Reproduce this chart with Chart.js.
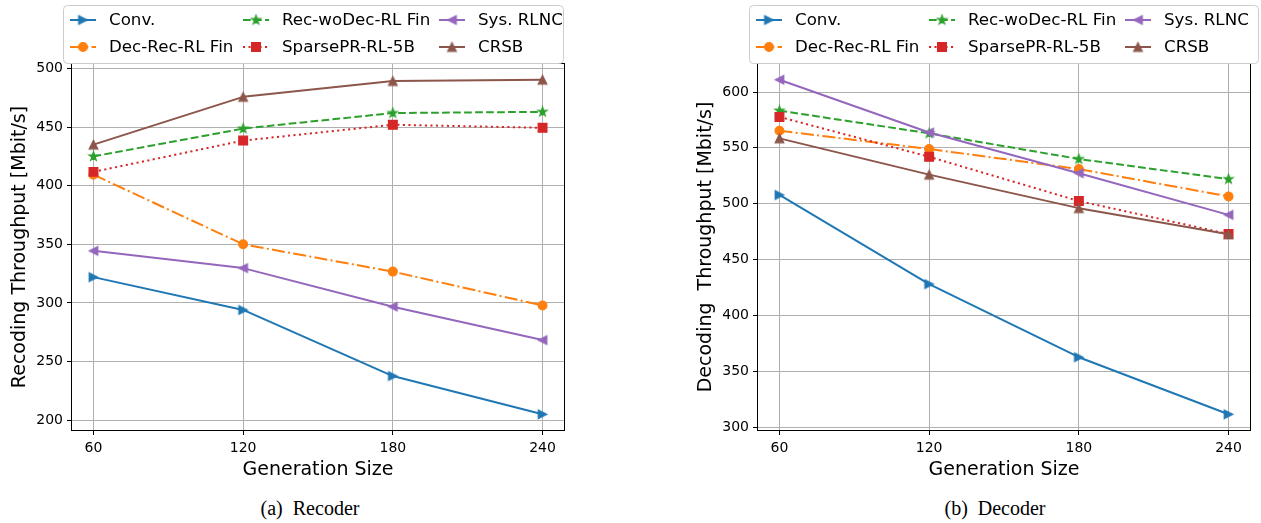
<!DOCTYPE html>
<html>
<head>
<meta charset="utf-8">
<script src="https://cdn.jsdelivr.net/npm/chart.js@4.4.0/dist/chart.umd.min.js"></script>
<style>
  body { margin: 0; background: #fff; width: 1261px; height: 523px; overflow: hidden; position: relative; }
  canvas { position: absolute; top: 0; }
  .cap { position: absolute; top: 497px; font: 20px "Liberation Serif", serif; white-space: pre; transform: translateX(-50%); color: #000; }
</style>
</head>
<body>
<canvas id="recoder" width="630" height="490" style="left:0"></canvas>
<canvas id="decoder" width="575" height="490" style="left:686px"></canvas>
<div class="cap" style="left:310px">(a)  Recoder</div>
<div class="cap" style="left:995px">(b)  Decoder</div>
<script>
// generation sizes on the x axis
const genSizes = [60, 120, 180, 240];
const seriesNames = ['Conv.', 'Dec-Rec-RL Fin', 'Rec-woDec-RL Fin', 'SparsePR-RL-5B', 'Sys. RLNC', 'CRSB'];

// (a) recoder throughput, Mbit/s
const recConv     = [322, 294, 237.6, 205];
const recDecRec   = [409.4, 350, 326.7, 297.8];
const recWoDec    = [425, 448.7, 462, 463];
const recSparse   = [411.8, 438.5, 452, 449.4];
const recSys      = [344.4, 329.7, 296.8, 268.3];
const recCrsb     = [435, 475.8, 489.3, 490.4];
const recYTicks   = [200, 250, 300, 350, 400, 450, 500];

// (b) decoder throughput, Mbit/s
const decConv     = [507.8, 428, 362.5, 311.4];
const decDecRec   = [565.3, 549, 531, 506.5];
const decWoDec    = [583.3, 563, 540, 522];
const decSparse   = [577.7, 542, 502.4, 472.8];
const decSys      = [611, 563.7, 527.3, 490];
const decCrsb     = [558.5, 526, 496, 472.6];
const decYTicks   = [300, 350, 400, 450, 500, 550, 600];

// little canvases for the markers chart.js has no shape for
function markerCanvas(color, kind) {
  const c = document.createElement('canvas');
  c.width = 13; c.height = 13;
  const g = c.getContext('2d');
  g.translate(6.5, 6.5);
  g.fillStyle = color; g.strokeStyle = color; g.lineWidth = 1.2; g.lineJoin = 'miter';
  const h = 4.3;
  g.beginPath();
  if (kind === 'right') { g.moveTo(h, 0); g.lineTo(-h, -h); g.lineTo(-h, h); }
  else if (kind === 'left') { g.moveTo(-h, 0); g.lineTo(h, -h); g.lineTo(h, h); }
  else if (kind === 'up') { g.moveTo(0, -h); g.lineTo(h, h); g.lineTo(-h, h); }
  else if (kind === 'star') {
    const ro = 4.8, ri = ro * 0.381966;
    for (let k = 0; k < 10; k++) {
      const r = k % 2 ? ri : ro;
      const a = -Math.PI / 2 + k * Math.PI / 5;
      if (k === 0) g.moveTo(r * Math.cos(a), r * Math.sin(a));
      else g.lineTo(r * Math.cos(a), r * Math.sin(a));
    }
  }
  g.closePath();
  g.fill(); g.stroke();
  return c;
}

// line / marker look for each series (same on both plots)
const looks = [
  { color: '#1f77b4', dash: [],                 marker: markerCanvas('#1f77b4', 'right'), radius: 5 },
  { color: '#ff7f0e', dash: [13, 3.3, 2, 3.3],  marker: 'circle', radius: 4.4 },
  { color: '#2ca02c', dash: [7.7, 3.3],         marker: markerCanvas('#2ca02c', 'star'), radius: 5 },
  { color: '#d62728', dash: [2.1, 3.4],         marker: 'rect', radius: 6.2 },
  { color: '#9467bd', dash: [],                 marker: markerCanvas('#9467bd', 'left'), radius: 5 },
  { color: '#8c564b', dash: [],                 marker: markerCanvas('#8c564b', 'up'), radius: 5 }
];

// matplotlib-like 5% autoscale margins
function autoRange(arrs) {
  const all = [].concat(...arrs);
  const lo = Math.min(...all), hi = Math.max(...all), m = (hi - lo) * 0.05;
  return [lo - m, hi + m];
}

const framePlugin = {
  id: 'frame',
  afterDatasetsDraw(chart) {
    const a = chart.chartArea, ctx = chart.ctx;
    ctx.save();
    ctx.strokeStyle = '#000';
    ctx.lineWidth = 1;
    ctx.strokeRect(Math.round(a.left) + 0.5, Math.round(a.top) + 0.5, Math.round(a.right - a.left) - 1, Math.round(a.bottom - a.top) - 1);
    ctx.restore();
  }
};

const legendPlugin = {
  id: 'mplLegend',
  afterDraw(chart, args, opts) {
    const ctx = chart.ctx;
    const bx = opts.left, by = 5, bw = opts.width, bh = 58;
    ctx.save();
    ctx.beginPath();
    ctx.roundRect(bx + 0.5, by + 0.5, bw, bh, 4);
    ctx.fillStyle = 'rgba(255,255,255,0.8)';
    ctx.fill();
    ctx.strokeStyle = '#cccccc';
    ctx.lineWidth = 1;
    ctx.stroke();
    const colX = [7, 180, 376], textX = [46, 219, 415], rowY = [20, 47];
    ctx.font = '16.7px "DejaVu Sans"';
    ctx.textBaseline = 'middle';
    chart.data.datasets.forEach((ds, i) => {
      const c = Math.floor(i / 2), r = i % 2;
      const x0 = bx + colX[c], y = rowY[r];
      ctx.save();
      ctx.strokeStyle = ds.borderColor;
      ctx.fillStyle = ds.borderColor;
      ctx.lineWidth = 2;
      ctx.setLineDash(ds.borderDash);
      ctx.beginPath();
      ctx.moveTo(x0, y); ctx.lineTo(x0 + 26, y);
      ctx.stroke();
      ctx.setLineDash([]);
      ctx.lineWidth = 1.2;
      Chart.helpers.drawPoint(ctx, {
        pointStyle: ds.pointStyle, radius: ds.pointRadius, rotation: 0, borderWidth: 1.2
      }, x0 + 13, y);
      ctx.restore();
      ctx.fillStyle = '#000';
      ctx.fillText(ds.label, bx + textX[c], y + 1);
    });
    ctx.restore();
  }
};

function makeChart(id, seriesData, yTicks, yTitle, legendWidth, padRight) {
  const yr = autoRange(seriesData);
  const xr = autoRange([genSizes]);
  const datasets = seriesData.map((vals, i) => ({
    label: seriesNames[i],
    data: vals.map((v, k) => ({ x: genSizes[k], y: v })),
    borderColor: looks[i].color,
    backgroundColor: looks[i].color,
    pointBackgroundColor: looks[i].color,
    pointBorderColor: looks[i].color,
    borderWidth: 2,
    borderDash: looks[i].dash,
    borderJoinStyle: 'round',
    pointStyle: looks[i].marker,
    pointRadius: looks[i].radius,
    pointBorderWidth: 1.2,
    tension: 0,
    order: -i
  }));
  const tickFont = { family: 'DejaVu Sans', size: 14 };
  const grid = { color: '#b0b0b0', lineWidth: 1, tickColor: '#000', tickLength: 4, tickWidth: 1 };
  return new Chart(document.getElementById(id), {
    type: 'line',
    data: { datasets },
    options: {
      responsive: false,
      animation: false,
      events: [],
      layout: { padding: { left: 0, top: 63, right: padRight, bottom: 0 } },
      plugins: {
        legend: { display: false },
        tooltip: { enabled: false },
        mplLegend: { left: 63, width: legendWidth }
      },
      scales: {
        x: {
          type: 'linear', min: xr[0], max: xr[1],
          afterBuildTicks: s => { s.ticks = genSizes.map(v => ({ value: v })); },
          afterFit: s => { s.height = 59; },
          grid, border: { display: false },
          ticks: { font: tickFont, color: '#000', padding: 5, maxRotation: 0, autoSkip: false },
          title: { display: true, text: 'Generation Size', color: '#000',
                   font: { family: 'DejaVu Sans', size: 19 }, padding: { top: 0, bottom: 9 } }
        },
        y: {
          type: 'linear', min: yr[0], max: yr[1],
          afterBuildTicks: s => { s.ticks = yTicks.map(v => ({ value: v })); },
          afterFit: s => { s.width = 71; },
          grid, border: { display: false },
          ticks: { font: tickFont, color: '#000', padding: 4 },
          title: { display: true, text: yTitle, color: '#000',
                   font: { family: 'DejaVu Sans', size: 19 }, padding: { top: 8.6, bottom: 0 } }
        }
      }
    },
    plugins: [framePlugin, legendPlugin]
  });
}

makeChart('recoder', [recConv, recDecRec, recWoDec, recSparse, recSys, recCrsb],
  recYTicks, 'Recoding Throughput [Mbit/s]', 500, 65);
makeChart('decoder', [decConv, decDecRec, decWoDec, decSparse, decSys, decCrsb],
  decYTicks, 'Decoding  Throughput [Mbit/s]', 509, 10);
</script>
</body>
</html>
